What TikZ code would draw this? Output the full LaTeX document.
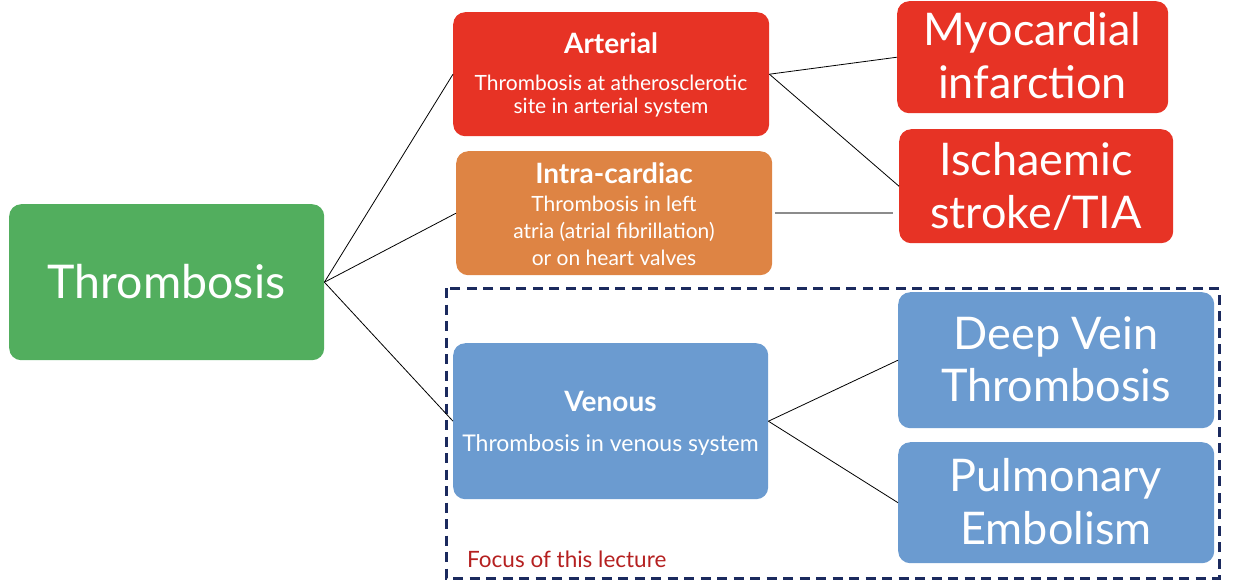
\documentclass[tikz,border=0pt]{standalone}
\usepackage{fontspec}
\setmainfont{Lato}
\definecolor{grn}{HTML}{52AE5E}
\definecolor{redc}{HTML}{E73325}
\definecolor{orng}{HTML}{DE8444}
\definecolor{blu}{HTML}{6B9BD0}
\definecolor{navy}{HTML}{1B2A5E}
\definecolor{focusred}{HTML}{B52020}
\begin{document}
\begin{tikzpicture}[x=1pt,y=-1pt,
  box/.style={rounded corners=12pt, draw=none, inner sep=0pt, anchor=north west},
  txt/.style={text=white, inner sep=0pt, anchor=base},
  big/.style={txt, font=\fontsize{45}{50}\selectfont},
  ttl/.style={txt, font=\fontsize{28}{30}\selectfont\bfseries},
  sub/.style={txt, font=\fontsize{21}{24}\selectfont},
  conn/.style={draw=black, line width=0.8pt},
  grayconn/.style={draw=gray!90, line width=1.8pt}]
\useasboundingbox (0,0) rectangle (1236,582);

% dashed focus frame
\draw[navy, line width=3pt, dash pattern=on 10pt off 6.5pt] (446,288) rectangle (1219,578);

% boxes
\node[box, fill=grn,  minimum width=315pt, minimum height=156pt] (thr) at (9,204) {};
\node[box, fill=redc, minimum width=316pt, minimum height=124pt] (art) at (453,12) {};
\node[box, fill=orng, minimum width=316pt, minimum height=124pt] (intra) at (456,151) {};
\node[box, fill=blu,  minimum width=315pt, minimum height=156pt] (ven) at (453,343) {};
\node[box, fill=redc, minimum width=271pt, minimum height=112pt] (myo) at (897,1) {};
\node[box, fill=redc, minimum width=274pt, minimum height=114pt] (isch) at (899,129) {};
\node[box, fill=blu,  minimum width=316pt, minimum height=136pt] (dvt) at (898,292) {};
\node[box, fill=blu,  minimum width=316pt, minimum height=121pt] (pe) at (898,442) {};

% texts
\node[big, font=\fontsize{46.5}{50}\selectfont] (thrT) at (166.5,298) {Thrombosis};

\node[ttl] (artT) at (611,53) {Arterial};
\node[sub] (artS1) at (611,90) {Thrombosis at atherosclerotic};
\node[sub] (artS2) at (611,113) {site in arterial system};

\node[ttl] (intraT) at (614,183) {Intra-cardiac};
\node[sub] (intraS1) at (614,211) {Thrombosis in left};
\node[sub] (intraS2) at (614,238) {atria (atrial fibrillation)};
\node[sub] (intraS3) at (614,265) {or on heart valves};

\node[ttl] (venT) at (610.5,411) {Venous};
\node[sub, font=\fontsize{23}{26}\selectfont] (venS) at (610.5,451) {Thrombosis in venous system};

\node[big] (myoT1) at (1032.5,45) {Myocardial};
\node[big] (myoT2) at (1032.5,98) {infarction};
\node[big] (ischT1) at (1036,175) {Ischaemic};
\node[big] (ischT2) at (1036,228) {stroke/TIA};
\node[big] (dvtT1) at (1056,349) {Deep Vein};
\node[big] (dvtT2) at (1056,401) {Thrombosis};
\node[big] (peT1) at (1056,491) {Pulmonary};
\node[big] (peT2) at (1056,544) {Embolism};

\node[inner sep=0pt, anchor=base west, text=focusred, font=\fontsize{22.5}{25}\selectfont] (focus) at (467,567) {Focus of this lecture};

% connectors
\draw[conn] (thr.east) -- (art.west);
\draw[conn] (thr.east) -- (intra.west);
\draw[conn] (thr.east) -- (ven.west);
\draw[conn] (art.east) -- (myo.west);
\draw[conn] (art.east) -- (isch.west);
\draw[grayconn, shorten <=3pt, shorten >=6pt] (intra.east) -- (intra.east -| isch.west);
\draw[conn] (ven.east) -- (dvt.west);
\draw[conn] (ven.east) -- (pe.west);
\end{tikzpicture}
\end{document}
